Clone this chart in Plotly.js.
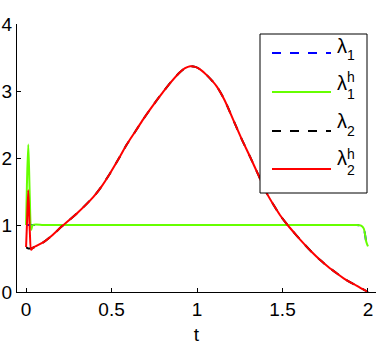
<!DOCTYPE html>
<html>
<head>
<meta charset="utf-8">
<script src="https://cdn.plot.ly/plotly-3.0.1.min.js"></script>
<style>
  html, body { margin: 0; padding: 0; background: #fff; }
  #plot { width: 390px; height: 348px; }
</style>
</head>
<body>
<div id="plot"></div>
<script>
// time grid (nonuniform, denser near the start spike and the peak)
var t = [0, 0.005, 0.013, 0.022, 0.03, 0.04, 0.1, 0.15, 0.21, 0.3, 0.394, 0.44, 0.491, 0.54,
         0.589, 0.64, 0.686, 0.73, 0.764, 0.8, 0.85, 0.9, 0.93, 0.96, 0.99, 1.02, 1.06, 1.115,
         1.16, 1.212, 1.26, 1.31, 1.36, 1.407, 1.45, 1.485, 1.53, 1.58, 1.622, 1.67, 1.719,
         1.77, 1.817, 1.86, 1.914, 1.93, 1.96, 1.975, 1.99, 2.0];

// exact lambda_1 and approximation lambda_1^h
var lam1  = [1, 1, 1, 1, 1, 1, 1, 1, 1, 1, 1, 1, 1, 1,
             1, 1, 1, 1, 1, 1, 1, 1, 1, 1, 1, 1, 1, 1,
             1, 1, 1, 1, 1, 1, 1, 1, 1, 1, 1, 1, 1,
             1, 1, 1, 1, 1, 0.99, 0.95, 0.75, 0.68];
var lam1h = [1, 1.6, 2.2, 1.4, 0.93, 1, 1, 1, 1, 1, 1, 1, 1, 1,
             1, 1, 1, 1, 1, 1, 1, 1, 1, 1, 1, 1, 1, 1,
             1, 1, 1, 1, 1, 1, 1, 1, 1, 1, 1, 1, 1,
             1, 1, 1, 1, 1, 0.99, 0.95, 0.75, 0.68];

// exact lambda_2 and approximation lambda_2^h
var lam2  = [0.66, 0.66, 0.65, 0.65, 0.65, 0.66, 0.74, 0.84, 0.98, 1.18, 1.42, 1.57, 1.77, 1.98,
             2.2, 2.4, 2.58, 2.74, 2.86, 2.98, 3.14, 3.28, 3.34, 3.37, 3.36, 3.32, 3.23, 3.07,
             2.87, 2.57, 2.29, 2.02, 1.74, 1.48, 1.29, 1.15, 1.0, 0.85, 0.73, 0.6, 0.48,
             0.37, 0.28, 0.2, 0.12, 0.1, 0.055, 0.035, 0.015, 0];
var lam2h = [0.67, 1.0, 1.52, 0.9, 0.63, 0.66, 0.74, 0.84, 0.98, 1.18, 1.42, 1.57, 1.77, 1.98,
             2.2, 2.4, 2.58, 2.74, 2.86, 2.98, 3.14, 3.28, 3.34, 3.37, 3.36, 3.32, 3.23, 3.07,
             2.87, 2.57, 2.29, 2.02, 1.74, 1.48, 1.29, 1.15, 1.0, 0.85, 0.73, 0.6, 0.48,
             0.37, 0.28, 0.2, 0.12, 0.1, 0.055, 0.035, 0.015, 0];

var names = ["λ<sub>1</sub>", "λ<sub>1</sub><sup>h</sup>", "λ<sub>2</sub>", "λ<sub>2</sub><sup>h</sup>"];
var colors = ["#0000ff", "#66ff00", "#000000", "#ff0000"];
var dashes = ["dash", "solid", "dash", "solid"];

var xticks = [0, 0.5, 1, 1.5, 2];
var yticks = [0, 1, 2, 3, 4];

var font = "Liberation Sans, Arial, Helvetica, sans-serif";

var series = [lam1, lam1h, lam2, lam2h];
var traces = series.map(function (y, i) {
  return {x: t, y: y, name: names[i], mode: "lines", showlegend: false,
          line: {color: colors[i], width: 2, dash: dashes[i], shape: "spline", smoothing: 0.8}};
});

// plot area in pixels: left 17, right 376, top 24, bottom 292
function px(x) { return (x - 17) / 359; }
function py(y) { return (292 - y) / 268; }

// hand-built legend box (MATLAB style: stacked sub/superscripts)
var shapes = [{type: "rect", xref: "paper", yref: "paper", layer: "above",
               x0: px(260), x1: px(367), y0: py(193), y1: py(34),
               line: {color: "#000", width: 1}, fillcolor: "#fff"}];
var annotations = [];
var rowLine = [53, 92, 131, 169];
var lamY = [46, 83, 121, 158];
var subY = [54, 93, 130, 169];
var subs = ["1", "1", "2", "2"];
var hasH = [false, true, false, true];
for (var i = 0; i < 4; i++) {
  shapes.push({type: "line", xref: "paper", yref: "paper", layer: "above",
               x0: px(272), x1: px(331), y0: py(rowLine[i]), y1: py(rowLine[i]),
               line: {color: colors[i], width: 2, dash: dashes[i]}});
  annotations.push({text: "λ", xref: "paper", yref: "paper", x: px(342), y: py(lamY[i]),
                    showarrow: false, xanchor: "center", yanchor: "middle",
                    font: {size: 20}});
  annotations.push({text: subs[i], xref: "paper", yref: "paper", x: px(351), y: py(subY[i]),
                    showarrow: false, xanchor: "center", yanchor: "middle",
                    height: 13, borderpad: 0, font: {size: 14}});
  if (hasH[i]) {
    annotations.push({text: "h", xref: "paper", yref: "paper", x: px(351), y: py(subY[i] - 16),
                      showarrow: false, xanchor: "center", yanchor: "middle",
                      height: 13, borderpad: 0, font: {size: 14}});
  }
}

var layout = {
  width: 390, height: 348,
  margin: {l: 17, r: 14, t: 24, b: 56},
  paper_bgcolor: "#fff", plot_bgcolor: "#fff",
  font: {family: font, size: 19, color: "#000"},
  showlegend: false,
  xaxis: {
    range: [-0.053, 2.047], tickvals: xticks, ticktext: ["0", "0.5", "1", "1.5", "2"],
    ticks: "inside", ticklen: 4, tickcolor: "#000",
    showline: true, linecolor: "#000", linewidth: 1,
    showgrid: false, zeroline: false,
    title: {text: "t", font: {size: 19}, standoff: 8}
  },
  yaxis: {
    range: [0, 4], tickvals: yticks,
    ticks: "inside", ticklen: 4, tickcolor: "#000",
    showline: true, linecolor: "#000", linewidth: 1,
    showgrid: false, zeroline: false
  },
  shapes: shapes,
  annotations: annotations
};

Plotly.newPlot("plot", traces, layout, {staticPlot: true});
</script>
</body>
</html>
